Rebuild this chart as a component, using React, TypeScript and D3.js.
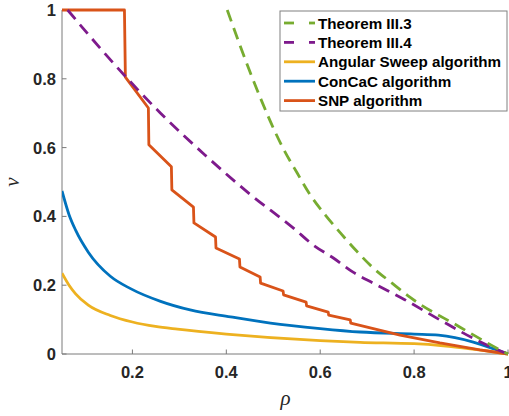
import React from "react";
import * as d3 from "d3";

// curve data: [rho, v]
const theorem33: [number, number][] = [
  [0.402, 1.0], [0.457, 0.797], [0.521, 0.598], [0.551, 0.526], [0.579, 0.462],
  [0.611, 0.404], [0.643, 0.352], [0.679, 0.297], [0.713, 0.25], [0.753, 0.206],
  [0.791, 0.165], [0.898, 0.078], [0.983, 0.012], [1.0, 0.0],
];
const theorem34: [number, number][] = [
  [0.062, 1.0], [0.15, 0.86], [0.26, 0.7], [0.355, 0.578], [0.45, 0.465],
  [0.543, 0.366], [0.585, 0.317], [0.628, 0.279], [0.67, 0.238], [0.713, 0.206],
  [0.78, 0.158], [0.855, 0.099], [0.955, 0.026], [1.0, 0.0],
];
const angularSweep: [number, number][] = [
  [0.05, 0.235], [0.065, 0.2], [0.079, 0.175], [0.106, 0.142], [0.153, 0.112],
  [0.2, 0.093], [0.249, 0.08], [0.296, 0.072], [0.4, 0.058], [0.6, 0.039],
  [0.685, 0.034], [0.8, 0.03], [0.862, 0.024], [1.0, 0.0],
];
const conCaC: [number, number][] = [
  [0.05, 0.474], [0.065, 0.405], [0.079, 0.36], [0.106, 0.296], [0.153, 0.226],
  [0.196, 0.19], [0.26, 0.153], [0.323, 0.128], [0.409, 0.108], [0.494, 0.09],
  [0.6, 0.074], [0.685, 0.064], [0.8, 0.058], [0.852, 0.055], [1.0, 0.0],
];
const snp: [number, number][] = [
  [0.05, 1.0], [0.183, 1.0], [0.185, 0.805], [0.234, 0.715], [0.235, 0.608],
  [0.283, 0.544], [0.284, 0.477], [0.33, 0.427], [0.331, 0.381], [0.377, 0.34],
  [0.378, 0.308], [0.428, 0.276], [0.429, 0.253], [0.472, 0.224], [0.473, 0.206],
  [0.521, 0.183], [0.522, 0.172], [0.57, 0.151], [0.571, 0.14], [0.617, 0.122],
  [0.618, 0.113], [0.664, 0.099], [0.665, 0.09], [0.77, 0.055], [0.855, 0.032],
  [0.94, 0.012], [1.0, 0.0],
];

const xTicks = [0.2, 0.4, 0.6, 0.8, 1];
const yTicks = [0, 0.2, 0.4, 0.6, 0.8, 1];

const series = [
  { name: "Theorem III.3", data: theorem33, color: "#77AC30", dashed: true, smooth: true },
  { name: "Theorem III.4", data: theorem34, color: "#7E1A8C", dashed: true, smooth: true },
  { name: "Angular Sweep algorithm", data: angularSweep, color: "#EDB120", dashed: false, smooth: true },
  { name: "ConCaC algorithm", data: conCaC, color: "#0072BD", dashed: false, smooth: true },
  { name: "SNP algorithm", data: snp, color: "#D95319", dashed: false, smooth: false },
];

export default function App() {
  const width = 509;
  const height = 416;
  const margin = { top: 10, right: 1, bottom: 62, left: 62 };

  const x = d3.scaleLinear().domain([0.05, 1]).range([margin.left, width - margin.right]);
  const y = d3.scaleLinear().domain([0, 1]).range([height - margin.bottom, margin.top]);

  const smoothLine = d3.line<[number, number]>()
    .x((d) => x(d[0]))
    .y((d) => y(d[1]))
    .curve(d3.curveMonotoneX);
  const stepLine = d3.line<[number, number]>()
    .x((d) => x(d[0]))
    .y((d) => y(d[1]));

  const axisColor = "#7a7a7a";
  const tickFont = "'Liberation Sans', Arial, sans-serif";
  const mathFont = "'Liberation Serif', 'Times New Roman', serif";

  // draw order: algorithms under theorems, SNP on top of blue
  const drawOrder = [3, 2, 4, 1, 0];

  return (
    <div style={{ position: "absolute", left: 0, top: 0 }}>
      <svg width={width} height={height} style={{ display: "block", background: "#fff" }}>
        <defs>
          <clipPath id="plot">
            <rect x={margin.left} y={margin.top - 2} width={width - margin.left} height={height - margin.bottom - margin.top + 4} />
          </clipPath>
        </defs>

        {/* axes */}
        <line x1={margin.left} x2={width - margin.right} y1={y(0)} y2={y(0)} stroke={axisColor} strokeWidth={1} />
        <line x1={margin.left} x2={margin.left} y1={y(0)} y2={y(1)} stroke={axisColor} strokeWidth={1} />
        {xTicks.map((t) => (
          <g key={"x" + t}>
            <line x1={x(t)} x2={x(t)} y1={y(0)} y2={y(0) - 4.5} stroke={axisColor} />
            <text x={x(t)} y={y(0) + 24} textAnchor="middle" fontFamily={tickFont} fontWeight="bold" fontSize={16.5} fill="#262626">
              {t}
            </text>
          </g>
        ))}
        {yTicks.map((t) => (
          <g key={"y" + t}>
            <line x1={margin.left} x2={margin.left + 4.5} y1={y(t)} y2={y(t)} stroke={axisColor} />
            <text x={margin.left - 6} y={y(t) + 6} textAnchor="end" fontFamily={tickFont} fontWeight="bold" fontSize={16.5} fill="#262626">
              {t}
            </text>
          </g>
        ))}

        {/* axis labels */}
        <text x={(margin.left + width) / 2} y={405} textAnchor="middle" fontFamily={mathFont} fontStyle="italic" fontSize={21} fill="#262626">
          ρ
        </text>
        <text transform={`translate(19, ${y(0.5)}) rotate(-90)`} textAnchor="middle" fontFamily={mathFont} fontStyle="italic" fontSize={21} fill="#262626">
          v
        </text>

        {/* curves */}
        <g clipPath="url(#plot)">
          {drawOrder.map((i) => {
            const s = series[i];
            const gen = s.smooth ? smoothLine : stepLine;
            return (
              <path
                key={s.name}
                d={gen(s.data) || ""}
                fill="none"
                stroke={s.color}
                strokeWidth={2.8}
                strokeDasharray={s.dashed ? "12 7" : undefined}
                strokeLinejoin="round"
              />
            );
          })}
        </g>

        {/* legend */}
        <g>
          <rect x={280} y={11} width={227} height={100} fill="#fff" stroke="#808080" strokeWidth={1} />
          {series.map((s, i) => {
            const cy = 23 + i * 19.4;
            return (
              <g key={"leg" + s.name}>
                {s.dashed ? (
                  <>
                    <line x1={284} x2={294} y1={cy} y2={cy} stroke={s.color} strokeWidth={2.8} />
                    <line x1={309} x2={315} y1={cy} y2={cy} stroke={s.color} strokeWidth={2.8} />
                  </>
                ) : (
                  <line x1={284} x2={315} y1={cy} y2={cy} stroke={s.color} strokeWidth={2.8} />
                )}
                <text x={318} y={cy + 5.5} fontFamily={tickFont} fontWeight="bold" fontSize={15.2} fill="#000">
                  {s.name}
                </text>
              </g>
            );
          })}
        </g>
      </svg>
    </div>
  );
}
